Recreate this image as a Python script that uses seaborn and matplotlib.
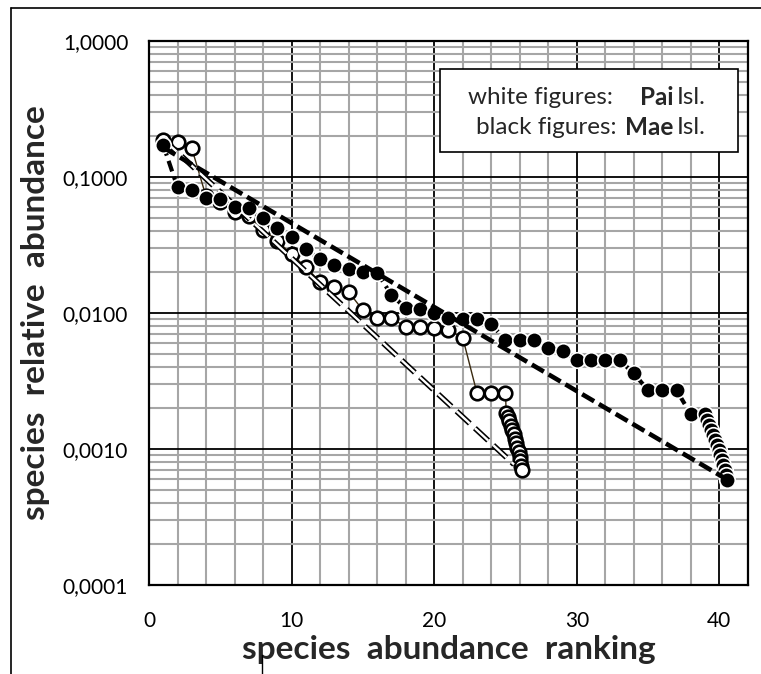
import numpy as np
import pandas as pd
import seaborn as sns
import matplotlib.pyplot as plt
from matplotlib.ticker import MultipleLocator, LogLocator, FixedLocator, NullFormatter
from matplotlib.lines import Line2D
from matplotlib.patches import Rectangle

sns.set_theme(style="white")
plt.rcParams['font.family'] = ['Lato', 'DejaVu Sans']
plt.rcParams['lines.scale_dashes'] = False

# Mae Isl. (black figures)
mae_rank = [1, 2, 3, 4, 5, 6, 7, 8, 9, 10, 11, 12, 13, 14, 15, 16, 17, 18, 19, 20,
            21, 22, 23, 24, 25, 26, 27, 28, 29, 30, 31, 32, 33, 34, 35, 36, 37, 38, 39,
            39.16, 39.30, 39.44, 39.58, 39.72, 39.86, 39.96, 40.07, 40.18, 40.28, 40.39, 40.46, 40.53]
mae_abund = [0.172, 0.084, 0.080, 0.070, 0.069, 0.060, 0.059, 0.050, 0.042, 0.036,
             0.0296, 0.0249, 0.0225, 0.0211, 0.0200, 0.0198, 0.0136, 0.0109, 0.0107, 0.0100,
             0.0092, 0.0091, 0.0090, 0.0083, 0.0063, 0.0063, 0.0063, 0.0055, 0.0053, 0.0045,
             0.0045, 0.0045, 0.0045, 0.0036, 0.0027, 0.0027, 0.0027, 0.0018, 0.0018,
             0.00163, 0.00150, 0.00138, 0.00127, 0.00116, 0.00107, 0.00098, 0.00090,
             0.00083, 0.00076, 0.00070, 0.00064, 0.00059]

# Pai Isl. (white figures)
pai_rank = [1, 2, 3, 4, 5, 6, 7, 8, 9, 10, 11, 12, 13, 14, 15, 16, 17, 18, 19, 20,
            21, 22, 23, 24, 25,
            25.05, 25.15, 25.25, 25.36, 25.47, 25.57, 25.68, 25.76, 25.84, 25.92, 25.99, 26.05, 26.12, 26.18]
pai_abund = [0.187, 0.181, 0.163, 0.072, 0.066, 0.055, 0.052, 0.041, 0.034, 0.027,
             0.0218, 0.0169, 0.0155, 0.0143, 0.0105, 0.0092, 0.0092, 0.0079, 0.0079, 0.0078,
             0.0075, 0.0066, 0.00258, 0.00258, 0.00258,
             0.00184, 0.00172, 0.00161, 0.00148, 0.00138, 0.00129, 0.00119, 0.00111,
             0.00102, 0.00095, 0.00087, 0.00082, 0.00075, 0.00070]

# fitted geometric series
mae_fit_rank = [1, 40.5]
mae_fit_abund = [0.165, 0.0006]
pai_fit_rank = [1, 25.6]
pai_fit_abund = [0.19, 0.00077]

y_ticks = [0.0001, 0.001, 0.01, 0.1, 1.0]
y_tick_labels = ['0,0001', '0,0010', '0,0100', '0,1000', '1,0000']
x_ticks = [0, 10, 20, 30, 40]

mae = pd.DataFrame({'rank': mae_rank, 'abund': mae_abund})
pai = pd.DataFrame({'rank': pai_rank, 'abund': pai_abund})

fig = plt.figure(figsize=(7.61, 6.74), dpi=100)
ax = fig.add_axes([0.1958, 0.132, 0.787, 0.807])

# Pai series
sns.lineplot(data=pai, x='rank', y='abund', sort=False, color='#3a2a10', lw=1.0, ax=ax, zorder=3)
sns.scatterplot(data=pai, x='rank', y='abund', s=95, color='white', edgecolor='black',
                linewidth=1.9, ax=ax, zorder=4)
# Pai fit: double dashed line
ax.plot(pai_fit_rank, pai_fit_abund, color='black', lw=4.0, ls=(0, (13, 5)), zorder=5,
        dash_capstyle='butt')
ax.plot(pai_fit_rank, pai_fit_abund, color='white', lw=1.7, ls=(0, (13, 5)), zorder=5.1,
        dash_capstyle='butt')

# Mae series
sns.lineplot(data=mae, x='rank', y='abund', sort=False, color='black', lw=3.0,
             ls=(0, (8, 4)), ax=ax, zorder=6)
sns.scatterplot(data=mae, x='rank', y='abund', s=125, color='black', edgecolor='white',
                linewidth=1.2, ax=ax, zorder=7)
# Mae fit: thick dashed line
ax.plot(mae_fit_rank, mae_fit_abund, color='black', lw=3.3, ls=(0, (10, 4)), zorder=8,
        dash_capstyle='butt')

ax.set_yscale('log')
ax.set_xlim(0, 42)
ax.set_ylim(0.0001, 1.0)
ax.xaxis.set_major_locator(FixedLocator(x_ticks))
ax.xaxis.set_minor_locator(MultipleLocator(2))
ax.yaxis.set_major_locator(FixedLocator(y_ticks))
ax.yaxis.set_minor_locator(LogLocator(base=10, subs=np.arange(2, 10)))
ax.yaxis.set_minor_formatter(NullFormatter())
ax.set_yticklabels(y_tick_labels)
ax.set_xticklabels([str(t) for t in x_ticks])

ax.grid(which='minor', color='#a6a6a6', lw=1.5, zorder=0)
ax.grid(which='major', color='black', lw=1.3, zorder=0.5)
ax.set_axisbelow(True)
for sp in ax.spines.values():
    sp.set_color('black')
    sp.set_linewidth(1.6)
ax.tick_params(which='both', length=0, labelsize=15, colors='black')
ax.tick_params(axis='y', pad=15)
ax.tick_params(axis='x', pad=19)

ax.set_xlabel('species  abundance  ranking', fontsize=24, fontweight='bold', va='center')
ax.set_ylabel('species  relative  abundance', fontsize=24, fontweight='bold', va='center')
ax.xaxis.set_label_coords(0.5, -0.119)
ax.yaxis.set_label_coords(-0.190, 0.5)

# label box
ax.add_patch(Rectangle((0.486, 0.796), 0.497, 0.153, transform=ax.transAxes,
                       facecolor='white', edgecolor='black', lw=1.2, zorder=10))
ax.text(0.775, 0.897, 'white figures:', transform=ax.transAxes, fontsize=17.5,
        va='center', ha='right', zorder=11)
ax.text(0.875, 0.897, 'Pai', transform=ax.transAxes, fontsize=17.5, fontweight='bold',
        va='center', ha='right', zorder=11)
ax.text(0.881, 0.897, 'Isl.', transform=ax.transAxes, fontsize=17.5,
        va='center', ha='left', zorder=11)
ax.text(0.781, 0.842, 'black figures:', transform=ax.transAxes, fontsize=17.5,
        va='center', ha='right', zorder=11)
ax.text(0.875, 0.842, 'Mae', transform=ax.transAxes, fontsize=17.5, fontweight='bold',
        va='center', ha='right', zorder=11)
ax.text(0.881, 0.842, 'Isl.', transform=ax.transAxes, fontsize=17.5,
        va='center', ha='left', zorder=11)

# outer frame
fig.add_artist(Line2D([11 / 761, 1], [1 - 8 / 674, 1 - 8 / 674], color='black', lw=1.2))
fig.add_artist(Line2D([11 / 761, 11 / 761], [0, 1 - 8 / 674], color='black', lw=1.2))
fig.add_artist(Line2D([262 / 761, 262 / 761], [0, 1 - 655 / 674], color='black', lw=1.0))

plt.savefig('out.png', dpi=100)
